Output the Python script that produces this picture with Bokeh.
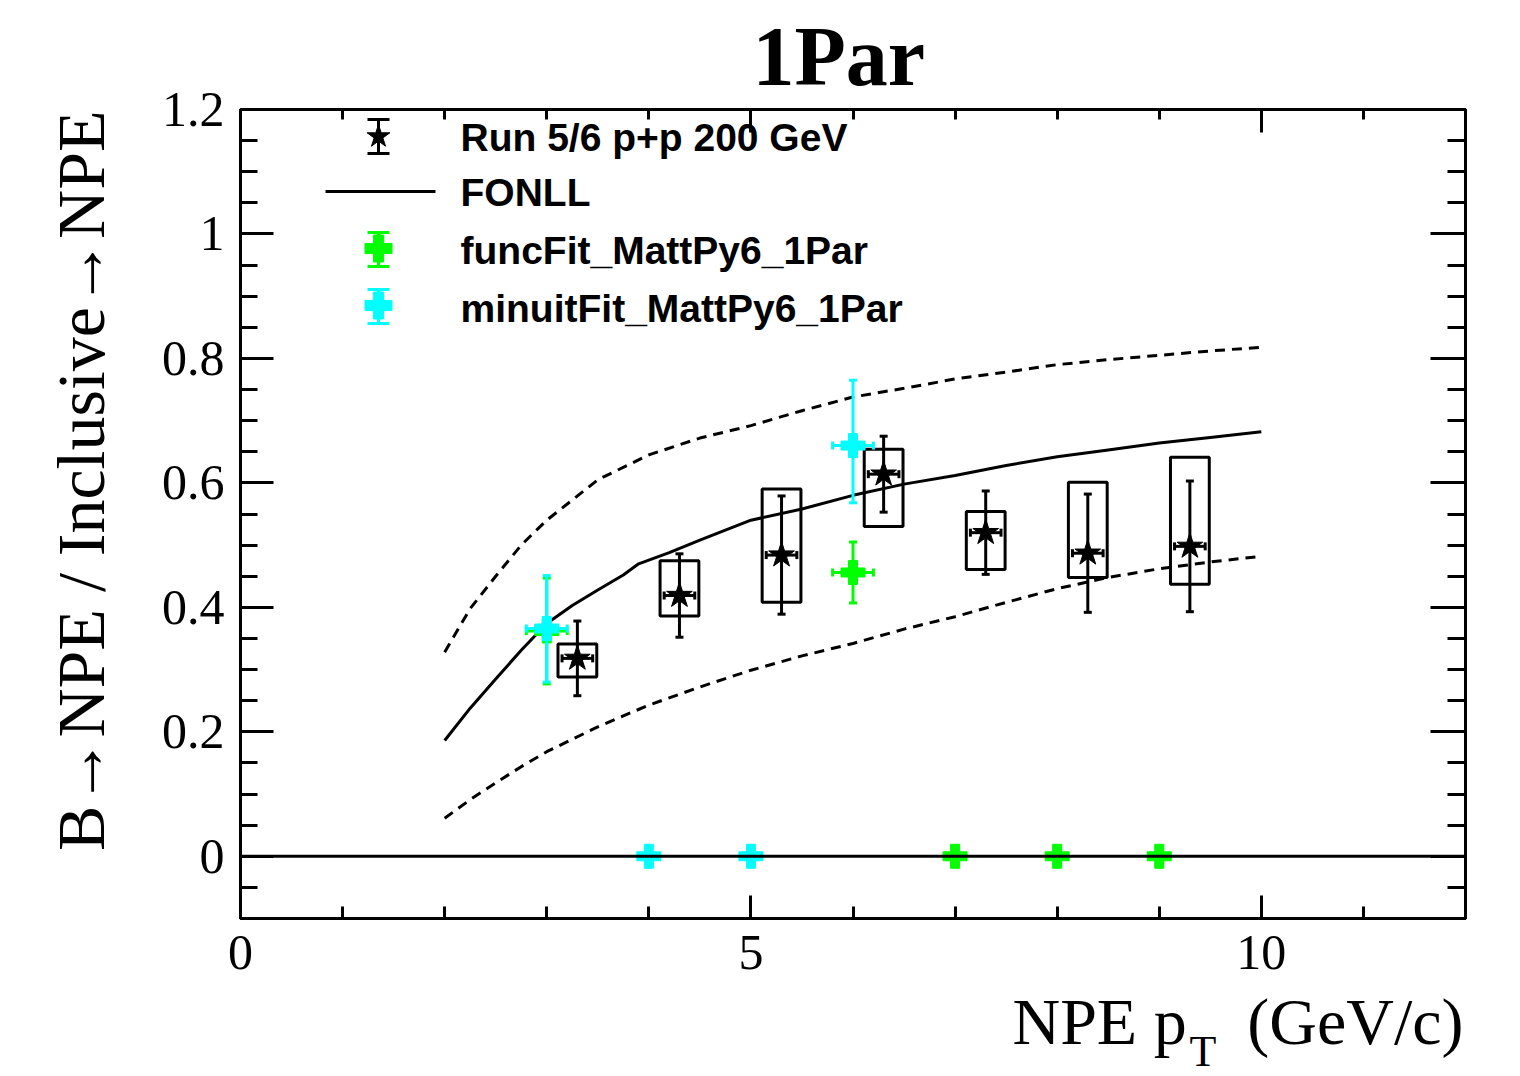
import numpy as np
from bokeh.plotting import figure
from bokeh.layouts import column
from bokeh.models import (Range1d, FixedTicker, LinearAxis, Span, Title,
                          NumeralTickFormatter, CustomJSTickFormatter)
from bokeh.embed import file_html
from bokeh.resources import INLINE
from bokeh.core.properties import value

# ---------------- data ----------------
data_pt = [3.3, 4.3, 5.3, 6.3, 7.3, 8.3, 9.3]
data_ratio = [0.318, 0.419, 0.484, 0.614, 0.520, 0.487, 0.498]
data_stat = [0.060, 0.067, 0.095, 0.061, 0.067, 0.095, 0.105]
data_sys_up = [0.023, 0.056, 0.106, 0.040, 0.034, 0.114, 0.143]
data_sys_dn = [0.030, 0.033, 0.076, 0.084, 0.059, 0.039, 0.061]
data_pt_err = [0.15, 0.15, 0.15, 0.15, 0.15, 0.15, 0.15]

func_pt = [3, 6, 7, 8, 9]
func_ratio = [0.362, 0.456, 0.0, 0.0, 0.0]
func_err_up = [0.085, 0.049, 0.0, 0.0, 0.0]
func_err_dn = [0.085, 0.049, 0.0, 0.0, 0.0]
func_pt_err = [0.2, 0.2, 0.0, 0.0, 0.0]

minuit_pt = [3, 4, 5, 6]
minuit_ratio = [0.366, 0.0, 0.0, 0.660]
minuit_err_up = [0.085, 0.0, 0.0, 0.105]
minuit_err_dn = [0.086, 0.0, 0.0, 0.092]
minuit_pt_err = [0.2, 0.0, 0.0, 0.2]

fonll_pt = [2.0, 2.25, 2.5, 2.75, 3.0, 3.25, 3.5, 3.75, 3.9, 4.2, 4.5, 5.0, 5.5, 6.0, 6.5,
            7.0, 7.5, 8.0, 8.5, 9.0, 9.5, 10.0]
fonll_central = [0.186, 0.238, 0.285, 0.331, 0.374, 0.403, 0.428, 0.452, 0.470, 0.488, 0.508,
                 0.540, 0.558, 0.580, 0.598, 0.612, 0.628, 0.642, 0.653, 0.664, 0.673, 0.682]
fonll_band_pt = [2.0, 2.25, 2.5, 2.75, 3.0, 3.5, 4.0, 4.5, 5.0, 5.5, 6.0, 6.5, 7.0, 7.5, 8.0,
                 8.5, 9.0, 9.5, 10.0]
fonll_upper = [0.328, 0.398, 0.450, 0.500, 0.540, 0.605, 0.645, 0.672, 0.692, 0.716, 0.738,
               0.752, 0.767, 0.778, 0.790, 0.798, 0.805, 0.812, 0.818]
fonll_lower = [0.061, 0.091, 0.118, 0.144, 0.168, 0.208, 0.243, 0.272, 0.299, 0.322, 0.342,
               0.365, 0.385, 0.408, 0.430, 0.448, 0.462, 0.473, 0.482]

x_ticks = [0, 5, 10]
x_minor = list(range(0, 13))
y_ticks = [0, 0.2, 0.4, 0.6, 0.8, 1.0, 1.2]
y_minor = [round(-0.1 + 0.05 * i, 2) for i in range(27)]

legend_labels = ["Run 5/6 p+p 200 GeV", "FONLL", "funcFit_MattPy6_1Par", "minuitFit_MattPy6_1Par"]
title_text = "1Par"
y_title = "B\u2192NPE / Inclusive\u2192NPE"
x_title_main = "NPE p"
x_title_sub = "T"
x_title_unit = "(GeV/c)"

# ---------------- layout helpers ----------------
X0, X1, Y0, Y1 = 0.0, 12.0, -0.1, 1.2
W, H = 1520, 1076
FL, FT, FW, FH = 240, 109, 1225, 809
MB = 65                      # bottom border of the main figure
MH = FT + FH + MB            # main figure height
QH = H - MH                  # height of the strip holding the x title


def px2x(px):
    return X0 + (px - FL) * (X1 - X0) / FW


def py2y(py):
    return Y1 - (py - FT) * (Y1 - Y0) / FH


def dpx(n):
    return n * (X1 - X0) / FW


def dpy(n):
    return n * (Y1 - Y0) / FH


x_range = Range1d(X0, X1)
p = figure(frame_width=FW, frame_height=FH,
           min_border_left=FL, min_border_top=FT,
           min_border_right=W - FL - FW, min_border_bottom=MB,
           x_range=x_range, y_range=Range1d(Y0, Y1),
           output_backend="svg", toolbar_location=None, title=None)
p.background_fill_color = "white"
p.border_fill_color = "white"
p.outline_line_color = "black"
p.outline_line_width = 3
p.xgrid.visible = False
p.ygrid.visible = False

blank = CustomJSTickFormatter(code="return ''")


def style_axis(ax, ticker, major_in, minor_in, labels, standoff=14):
    ax.ticker = ticker
    ax.major_tick_in = major_in
    ax.major_tick_out = 0
    ax.minor_tick_in = minor_in
    ax.minor_tick_out = 0
    ax.major_tick_line_width = 3
    ax.minor_tick_line_width = 3
    ax.major_tick_line_color = "black"
    ax.minor_tick_line_color = "black"
    ax.axis_line_width = 3
    ax.axis_line_color = "black"
    if labels:
        ax.major_label_text_font = "Liberation Serif"
        ax.major_label_text_font_size = "50px"
        ax.major_label_text_color = "black"
        ax.major_label_standoff = standoff
    else:
        ax.formatter = blank
        ax.major_label_text_font_size = "1px"
        ax.major_label_standoff = 0


xt = FixedTicker(ticks=x_ticks, minor_ticks=x_minor)
yt = FixedTicker(ticks=y_ticks, minor_ticks=y_minor)

style_axis(p.xaxis[0], xt, 23, 12, True, standoff=17)
style_axis(p.yaxis[0], yt, 33, 17, True, standoff=16)
p.yaxis[0].formatter = NumeralTickFormatter(format="0.[0]")

top_ax = LinearAxis()
style_axis(top_ax, FixedTicker(ticks=x_ticks, minor_ticks=x_minor), 23, 10, False)
p.add_layout(top_ax, "above")
right_ax = LinearAxis()
style_axis(right_ax, FixedTicker(ticks=y_ticks, minor_ticks=y_minor), 35, 18, False)
p.add_layout(right_ax, "right")

# ---------------- FONLL curves ----------------
p.line(fonll_pt, fonll_central, line_color="black", line_width=3)
p.line(fonll_band_pt, fonll_upper, line_color="black", line_width=3, line_dash="10 7")
p.line(fonll_band_pt, fonll_lower, line_color="black", line_width=3, line_dash="10 7")


# ---------------- error bar helper ----------------
def error_bars(x, y, xerr, ylo, yhi, color, cap_half_px=4):
    x = np.asarray(x, float)
    y = np.asarray(y, float)
    xerr = np.asarray(xerr, float)
    ylo = np.asarray(ylo, float)
    yhi = np.asarray(yhi, float)
    cx = dpx(cap_half_px)
    cy = dpy(cap_half_px)
    mv = (ylo + yhi) > 0
    if mv.any():
        p.segment(x[mv], y[mv] - ylo[mv], x[mv], y[mv] + yhi[mv], line_color=color, line_width=3)
        p.segment(x[mv] - cx, y[mv] + yhi[mv], x[mv] + cx, y[mv] + yhi[mv], line_color=color, line_width=3)
        p.segment(x[mv] - cx, y[mv] - ylo[mv], x[mv] + cx, y[mv] - ylo[mv], line_color=color, line_width=3)
    mh = xerr > 0
    if mh.any():
        p.segment(x[mh] - xerr[mh], y[mh], x[mh] + xerr[mh], y[mh], line_color=color, line_width=3)
        p.segment(x[mh] - xerr[mh], y[mh] - cy, x[mh] - xerr[mh], y[mh] + cy, line_color=color, line_width=3)
        p.segment(x[mh] + xerr[mh], y[mh] - cy, x[mh] + xerr[mh], y[mh] + cy, line_color=color, line_width=3)


# ---------------- data points ----------------
dx = np.array(data_pt)
dy = np.array(data_ratio)
p.quad(left=dx - 0.19, right=dx + 0.19,
       top=dy + np.array(data_sys_up), bottom=dy - np.array(data_sys_dn),
       fill_alpha=0, line_color="black", line_width=3)
error_bars(data_pt, data_ratio, data_pt_err, data_stat, data_stat, "black")
p.scatter(data_pt, data_ratio, marker="star", size=27, fill_color="black", line_color="black")

GREEN = "#00ff00"
CYAN = "#00ffff"
error_bars(func_pt, func_ratio, func_pt_err, func_err_dn, func_err_up, GREEN)
p.scatter(func_pt, func_ratio, marker="plus", size=24, fill_color=GREEN, line_color=GREEN)
error_bars(minuit_pt, minuit_ratio, minuit_pt_err, minuit_err_dn, minuit_err_up, CYAN)
p.scatter(minuit_pt, minuit_ratio, marker="plus", size=24, fill_color=CYAN, line_color=CYAN)

p.add_layout(Span(location=0, dimension="width", line_color="black", line_width=3))

# ---------------- legend ----------------
sym_x = px2x(378)
row_py = [136, 191, 248, 305]
text_py = [137, 192, 250, 308]
sx = np.array([sym_x])
ry = py2y(row_py[0])
p.segment(sx, [py2y(119)], sx, [py2y(153)], line_color="black", line_width=3)
p.segment(sx - dpx(11), [py2y(119)], sx + dpx(11), [py2y(119)], line_color="black", line_width=3)
p.segment(sx - dpx(11), [py2y(153)], sx + dpx(11), [py2y(153)], line_color="black", line_width=3)
p.scatter([sym_x], [ry], marker="star", size=24, fill_color="black", line_color="black")
p.line([px2x(325), px2x(435)], [py2y(row_py[1])] * 2, line_color="black", line_width=3)
for col, rpy in ((GREEN, row_py[2]), (CYAN, row_py[3])):
    top, bot = py2y(rpy - 16), py2y(rpy + 18)
    p.segment(sx, [bot], sx, [top], line_color=col, line_width=3)
    p.segment(sx - dpx(11), [top], sx + dpx(11), [top], line_color=col, line_width=3)
    p.segment(sx - dpx(11), [bot], sx + dpx(11), [bot], line_color=col, line_width=3)
    p.scatter([sym_x], [py2y(rpy)], marker="plus", size=27, fill_color=col, line_color=col)

p.text(x=[px2x(460)] * 4, y=[py2y(b) for b in text_py], text=legend_labels,
       text_font=value("Liberation Sans"), text_font_style="bold", text_font_size="39px",
       text_color="black", text_baseline="middle", text_align="left")

# ---------------- titles ----------------
p.add_layout(Title(text=title_text, align="left", offset=512, vertical_align="bottom", standoff=13.5,
                   text_font="Liberation Serif", text_font_style="bold",
                   text_font_size="84px", text_color="black"), "above")
p.add_layout(Title(text=y_title, align="right", offset=1,
                   vertical_align="bottom", standoff=79.5,
                   text_font="Liberation Serif", text_font_style="normal",
                   text_font_size="68px", text_color="black"), "left")

# ---------------- strip below the plot holding the x-axis title ----------------
q = figure(width=W, height=QH, x_range=x_range, y_range=Range1d(QH, 0),
           x_axis_location=None, y_axis_location=None, toolbar_location=None,
           output_backend="svg", min_border=0)
q.grid.visible = False
q.outline_line_color = None
q.background_fill_color = "white"
q.border_fill_color = "white"
q.text(x=[px2x(1012)], y=[1020.5 - MH], text=[x_title_main], text_font=value("Liberation Serif"),
       text_font_size="66px", text_color="black", text_align="left", text_baseline="middle")
q.text(x=[px2x(1189)], y=[1051 - MH], text=[x_title_sub], text_font=value("Liberation Serif"),
       text_font_size="44px", text_color="black", text_align="left", text_baseline="middle")
q.text(x=[px2x(1463)], y=[1020.5 - MH], text=[x_title_unit], text_font=value("Liberation Serif"),
       text_font_size="66px", text_color="black", text_align="right", text_baseline="middle")

layout = column(p, q, spacing=0)
open("out.html", "w").write(file_html(layout, INLINE))
